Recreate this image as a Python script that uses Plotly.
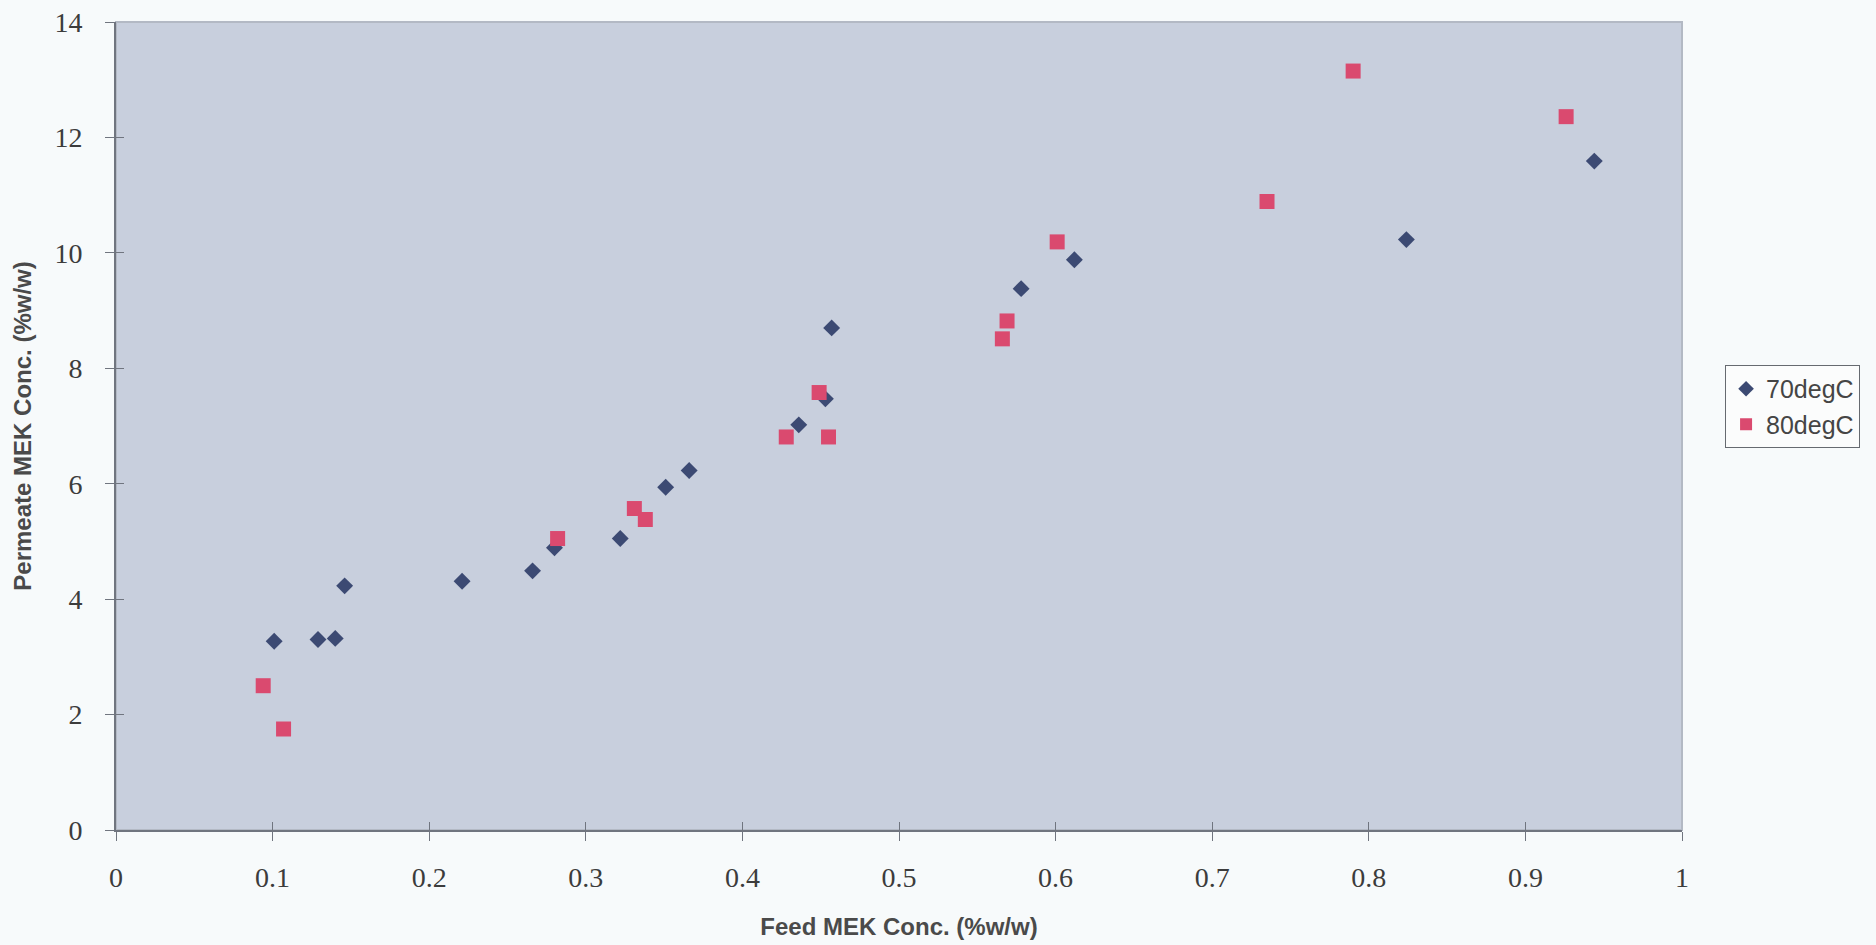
import plotly.graph_objects as go

# 70degC series
x70 = [0.101, 0.129, 0.140, 0.146, 0.221, 0.266, 0.280, 0.322, 0.351, 0.366,
       0.436, 0.453, 0.457, 0.578, 0.612, 0.824, 0.944]
y70 = [3.27, 3.30, 3.32, 4.23, 4.31, 4.49, 4.89, 5.05, 5.94, 6.23,
       7.02, 7.47, 8.70, 9.38, 9.88, 10.23, 11.59]

# 80degC series
x80 = [0.094, 0.107, 0.282, 0.331, 0.338, 0.428, 0.449, 0.455, 0.566, 0.569,
       0.601, 0.735, 0.790, 0.926]
y80 = [2.50, 1.75, 5.05, 5.57, 5.38, 6.81, 7.58, 6.81, 8.51, 8.82,
       10.19, 10.89, 13.15, 12.36]

x_ticks = [0, 0.1, 0.2, 0.3, 0.4, 0.5, 0.6, 0.7, 0.8, 0.9, 1]
x_labels = ["0", "0.1", "0.2", "0.3", "0.4", "0.5", "0.6", "0.7", "0.8", "0.9", "1"]
y_ticks = [0, 2, 4, 6, 8, 10, 12, 14]
y_labels = ["0", "2", "4", "6", "8", "10", "12", "14"]

axis_col = "#70757f"
tick_font = dict(family="Liberation Serif", size=28, color="#3c3c3c")
title_font = dict(family="Liberation Sans", size=24, color="#4a4a4a", weight="bold")

fig = go.Figure()
fig.add_trace(go.Scatter(
    x=x70, y=y70, mode="markers", name="70degC",
    marker=dict(symbol="diamond", size=13, color="#3c4a73", line=dict(width=0)),
))
fig.add_trace(go.Scatter(
    x=x80, y=y80, mode="markers", name="80degC",
    marker=dict(symbol="square", size=15, color="#da4a6f", line=dict(width=0)),
))
# invisible trace to anchor the inner-tick overlay axes
fig.add_trace(go.Scatter(x=[], y=[], xaxis="x2", yaxis="y2", showlegend=False,
                         hoverinfo="skip"))

fig.update_layout(
    width=1876, height=945,
    margin=dict(l=116, r=194, t=22, b=115, autoexpand=False),
    paper_bgcolor="#f7fafb",
    plot_bgcolor="#c8cfdd",
    showlegend=True,
    legend=dict(
        x=1.0275, y=0.5755, xanchor="left", yanchor="top",
        font=dict(family="Liberation Sans", size=25, color="#454545"),
        bgcolor="#fbfcfc", bordercolor="#666a70", borderwidth=1,
        itemsizing="constant", tracegroupgap=0, itemwidth=30,
    ),
    xaxis=dict(
        range=[0, 1], tickvals=x_ticks, ticktext=x_labels,
        showgrid=False, zeroline=False, automargin=False,
        showline=True, linecolor=axis_col, linewidth=2,
        ticks="outside", ticklen=9, tickwidth=1, tickcolor=axis_col,
        tickfont=tick_font, ticklabelstandoff=12,
        title=dict(text="Feed MEK Conc. (%w/w)", font=title_font, standoff=27),
    ),
    yaxis=dict(
        range=[0, 14], tickvals=y_ticks, ticktext=y_labels,
        showgrid=False, zeroline=False, automargin=False,
        showline=True, linecolor=axis_col, linewidth=2,
        ticks="outside", ticklen=9, tickwidth=1, tickcolor=axis_col,
        tickfont=tick_font, ticklabelstandoff=17,
        title=dict(text="Permeate MEK Conc. (%w/w)", font=title_font, standoff=16),
    ),
    xaxis2=dict(
        range=[0, 1], tickvals=x_ticks, overlaying="x", anchor="y2",
        showgrid=False, zeroline=False, showline=False, automargin=False,
        ticks="inside", ticklen=8, tickwidth=1, tickcolor=axis_col,
        showticklabels=False,
    ),
    yaxis2=dict(
        range=[0, 14], tickvals=y_ticks, overlaying="y", anchor="x2",
        showgrid=False, zeroline=False, showline=False, automargin=False,
        ticks="inside", ticklen=8, tickwidth=1, tickcolor=axis_col,
        showticklabels=False,
    ),
    shapes=[
        dict(type="rect", xref="paper", yref="paper", x0=0, x1=1, y0=0, y1=1,
             line=dict(color="#b3b9c4", width=2), fillcolor="rgba(0,0,0,0)",
             layer="below"),
    ],
)

fig.write_html("out.html")
